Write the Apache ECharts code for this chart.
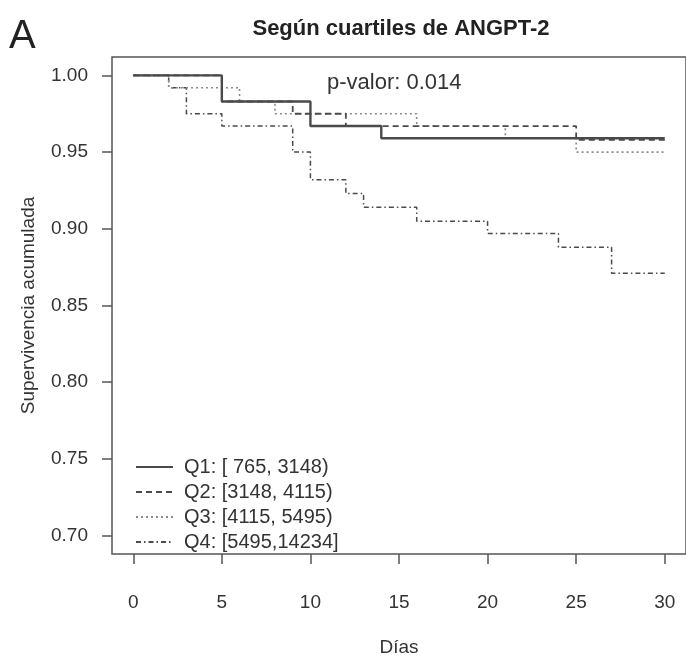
<!DOCTYPE html>
<html>
<head>
<meta charset="utf-8">
<script src="https://cdn.jsdelivr.net/npm/echarts@6/dist/echarts.min.js"></script>
<style>
html,body{margin:0;padding:0;background:#fff;}
#chart{width:686px;height:662px;}
</style>
</head>
<body>
<div id="chart"></div>
<script>
// ---- data ----
const seriesNames = ['Q1: [ 765, 3148)', 'Q2: [3148, 4115)', 'Q3: [4115, 5495)', 'Q4: [5495,14234]'];
const daysQ1 = [0, 5, 10, 14, 30];
const survQ1 = [1.000, 0.983, 0.967, 0.959, 0.959];
const daysQ2 = [0, 5, 9, 12, 25, 30];
const survQ2 = [1.000, 0.983, 0.975, 0.967, 0.958, 0.958];
const daysQ3 = [0, 2, 6, 8, 16, 21, 25, 30];
const survQ3 = [1.000, 0.992, 0.983, 0.975, 0.967, 0.959, 0.950, 0.950];
const daysQ4 = [0, 2, 3, 5, 9, 10, 12, 13, 16, 20, 24, 27, 30];
const survQ4 = [1.000, 0.992, 0.975, 0.967, 0.950, 0.932, 0.923, 0.914, 0.905, 0.897, 0.888, 0.871, 0.871];
const xTicks = [0, 5, 10, 15, 20, 25, 30];
const yTicks = [0.70, 0.75, 0.80, 0.85, 0.90, 0.95, 1.00];
const titleText = 'Según cuartiles de ANGPT-2';
const pText = 'p-valor: 0.014';
const panelLabel = 'A';
const xName = 'Días';
const yName = 'Supervivencia acumulada';

// ---- build ----
const FONT = '"Liberation Sans", Arial, sans-serif';
const TXT = '#333';
function pairs(xs, ys){ return xs.map((x,i)=>[x, ys[i]]); }
const styles = [
  {color:'#4a4a4a', width:2.4, type:'solid'},
  {color:'#4a4a4a', width:1.8, type:[6,4]},
  {color:'#8a8a8a', width:1.6, type:[2,3]},
  {color:'#4a4a4a', width:1.5, type:[5,3,1.5,3]}
];
const allDays = [daysQ1, daysQ2, daysQ3, daysQ4];
const allSurv = [survQ1, survQ2, survQ3, survQ4];
const series = seriesNames.map((n,i)=>({
  name:n, type:'line', step:'end', symbol:'none',
  data: pairs(allDays[i], allSurv[i]),
  lineStyle: styles[i], itemStyle:{color:styles[i].color},
  z: 4 - i, animation:false
}));

const chart = echarts.init(document.getElementById('chart'), null, {renderer:'canvas'});
chart.setOption({
  backgroundColor:'#fff',
  animation:false,
  title:{
    text:titleText, left:396, top:13, textAlign:'center',
    textStyle:{fontFamily:FONT, fontSize:22, fontWeight:'bold', color:'#222'}
  },
  graphic:[
    {type:'text', left:9, top:17, style:{text:panelLabel, font:'40px '+FONT, fill:'#222'}},
    {type:'text', left:327, top:72, style:{text:pText, font:'22px '+FONT, fill:TXT}}
  ],
  legend:{
    orient:'vertical', left:130, top:452, itemWidth:37, itemHeight:14, itemGap:5,
    itemStyle:{opacity:0},
    textStyle:{fontFamily:FONT, fontSize:20, color:TXT, lineHeight:20, padding:[0,0,0,6]},
    data:seriesNames
  },
  grid:{left:112, top:57, right:-1, bottom:102, show:true, borderColor:'#555', borderWidth:1.5, backgroundColor:'#fff', containLabel:false},
  xAxis:{
    type:'value', min:-1.2, max:31.2,
    name:xName, nameLocation:'middle', nameGap:84,
    nameTextStyle:{fontFamily:FONT, fontSize:19, color:TXT},
    axisLine:{show:false, onZero:false},
    axisTick:{show:true, customValues:xTicks, length:10, lineStyle:{color:'#555', width:1.5}},
    axisLabel:{customValues:xTicks, margin:39, fontFamily:FONT, fontSize:19, color:TXT},
    splitLine:{show:false}
  },
  yAxis:{
    type:'value', min:0.688, max:1.012,
    name:yName, nameLocation:'middle', nameGap:74, nameRotate:90,
    nameTextStyle:{fontFamily:FONT, fontSize:19, color:TXT},
    axisLine:{show:false, onZero:false},
    axisTick:{show:true, customValues:yTicks, length:10, lineStyle:{color:'#555', width:1.5}},
    axisLabel:{customValues:yTicks, margin:24, fontFamily:FONT, fontSize:19, color:TXT,
      formatter:(v)=>v.toFixed(2)},
    splitLine:{show:false}
  },
  series:series
});
</script>
</body>
</html>
